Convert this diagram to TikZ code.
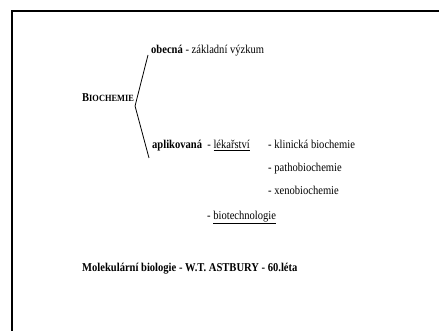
\documentclass[tikz,border=0pt]{standalone}
\usepackage{fontspec}
\setmainfont{Liberation Serif}[FakeStretch=0.88]
\begin{document}
\begin{tikzpicture}[x=1pt,y=-1pt,
  txt/.style={anchor=base west,inner sep=0pt,font=\fontsize{12}{14}\selectfont},
  branch/.style={line width=0.8pt}]
\useasboundingbox (0,0) rectangle (439,331);
\draw[line width=2pt] (12,331) -- (12,11) -- (439,11);
\node[txt] (bio) at (82,102) {\textbf{B\fontsize{9.5}{11}\selectfont IOCHEMIE}};
\node[txt] (obe) at (151,54) {\textbf{obecná} - základní výzkum};
\node[txt] (apl) at (152,149) {\textbf{aplikovaná}\ \ - \underline{lékařství}};
\node[txt] (kli) at (268,149) {- klinická biochemie};
\node[txt] (pat) at (268,172) {- pathobiochemie};
\node[txt] (xen) at (268,195) {- xenobiochemie};
\node[txt] (bte) at (207,219) {- \underline{biotechnologie}};
\node[txt] (mol) at (82,271) {\textbf{Molekulární biologie - W.T. ASTBURY - 60.léta}};
\coordinate (fork) at ([xshift=1pt,yshift=-4pt]bio.base east);
\draw[branch] (fork) -- ([xshift=-3pt,yshift=-1pt]obe.base west);
\draw[branch] (fork) -- ([xshift=-3pt,yshift=-9pt]apl.base west);
\end{tikzpicture}
\end{document}
